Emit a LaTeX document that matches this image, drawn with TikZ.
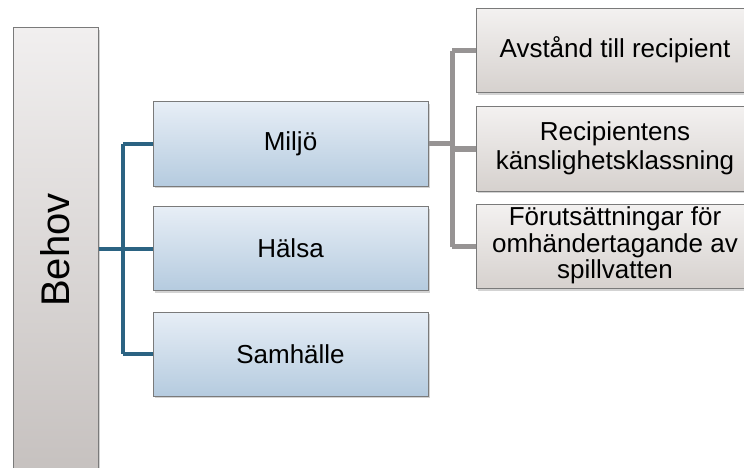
\documentclass[tikz,border=0pt]{standalone}
\usepackage{fontspec}
\setmainfont{Liberation Sans}
\usetikzlibrary{shadows,calc}
\definecolor{bordergray}{HTML}{7A7A7A}
\definecolor{bluetop}{HTML}{E7EEF6}
\definecolor{bluebot}{HTML}{B5CBDF}
\definecolor{graytop}{HTML}{F3F1F0}
\definecolor{graybot}{HTML}{D6D1CE}
\definecolor{behovtop}{HTML}{F1EFEF}
\definecolor{behovbot}{HTML}{C6C1BF}
\definecolor{blueline}{HTML}{2B6382}
\definecolor{grayline}{HTML}{979494}
\tikzset{
  boxbase/.style={draw=bordergray, line width=1pt, rectangle, inner sep=0pt, align=center,
    drop shadow={opacity=0.35, shadow xshift=1.5pt, shadow yshift=-2pt}},
  bluebox/.style={boxbase, top color=bluetop, bottom color=bluebot,
    minimum width=275pt, minimum height=84pt, font=\fontsize{26}{30}\selectfont},
  graybox/.style={boxbase, top color=graytop, bottom color=graybot,
    minimum width=278pt, minimum height=84pt},
  behovbox/.style={boxbase, top color=behovtop, bottom color=behovbot,
    minimum width=85pt, minimum height=444pt, font=\fontsize{40}{44}\selectfont},
  bconn/.style={draw=blueline, line width=4pt, line join=round},
  gconn/.style={draw=grayline, line width=5pt, line join=round},
}
\newcommand{\gtext}[2][29]{{\fontsize{26}{#1}\selectfont\begin{tabular}{@{}c@{}}#2\end{tabular}}}
\begin{document}
\begin{tikzpicture}[x=1pt,y=-1pt]
\useasboundingbox (0,0) rectangle (744,468);
\node[behovbox] (B) at (55.5,250) {\rotatebox{90}{Behov}};
\node[bluebox] (M) at (290.5,144) {Miljö};
\node[bluebox] (H) at (290.5,248.5) {Hälsa};
\node[bluebox] (S) at (290.5,354) {Samhälle};
\node[graybox] (A) at (615,51) {\gtext{Avstånd till recipient}};
\node[graybox] (R) at (615,149) {\gtext{Recipientens\\känslighetsklassning}};
\node[graybox] (F) at (615,246.5) {\gtext[26]{Förutsättningar för\\omhändertagande av\\spillvatten}};
\coordinate (j1) at (123,248.5);
\coordinate (j2) at (452,144);
\draw[bconn] (B.east |- H.west) -- (H.west);
\draw[bconn] (j1 |- M.west) -- (j1 |- S.west);
\draw[bconn] (j1 |- M.west) -- (M.west);
\draw[bconn] (j1 |- S.west) -- (S.west);
\draw[gconn] (M.east) -- (j2);
\draw[gconn] (j2 |- A.west) -- (j2 |- F.west);
\draw[gconn] (j2 |- A.west) -- (A.west);
\draw[gconn] (j2 |- R.west) -- (R.west);
\draw[gconn] (j2 |- F.west) -- (F.west);
\end{tikzpicture}
\end{document}
